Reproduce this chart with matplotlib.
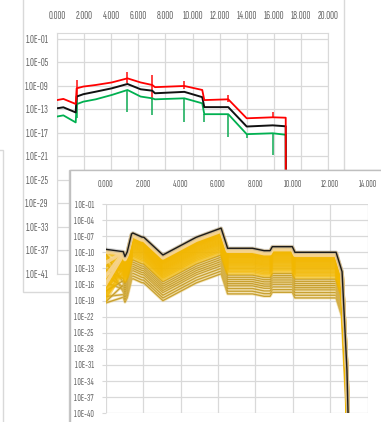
import numpy as np
import matplotlib
matplotlib.use("Agg")
import matplotlib.pyplot as plt
from matplotlib.patches import Rectangle
from matplotlib.ticker import FixedLocator, FuncFormatter

W, H = 381, 422

# upper chart: high / central / low run, exponents of 10
t_x = [0.0, 0.47, 1.38, 1.45, 1.94, 2.86, 4.04, 5.2, 6.17, 7.03, 7.23,
       9.4, 10.72, 10.87, 12.64, 14.0, 15.92, 16.88, 16.9]
red_exp = [-11.4, -11.2, -12.06, -9.4, -9.1, -8.83, -8.4, -7.7, -8.4, -8.83, -9.2,
           -9.0, -9.68, -11.4, -11.27, -14.5, -14.33, -14.4, -46.0]
black_exp = [-12.8, -12.63, -13.5, -10.8, -10.4, -9.97, -9.4, -8.66, -9.56, -9.8, -10.24,
             -10.0, -10.9, -12.6, -12.6, -15.9, -15.7, -15.86, -46.0]
green_exp = [-14.2, -14.0, -15.2, -12.1, -11.67, -11.27, -10.53, -9.68, -10.8, -11.1, -11.27,
             -11.1, -11.95, -13.8, -13.8, -17.2, -17.05, -17.3, -46.0]

# vertical spread markers on the upper chart
red_spike_x = [1.45, 5.2, 7.03, 9.4, 12.64, 15.92]
red_spike_hi = [-7.98, -6.57, -7.13, -8.1, -10.5, -13.4]
red_spike_lo = [-11.4, -8.54, -11.4, -9.56, -11.67, -14.5]
green_spike_x = [1.45, 5.2, 7.03, 9.4, 10.87, 12.64, 14.0, 15.92]
green_spike_hi = [-11.4, -9.68, -11.1, -11.1, -13.8, -13.8, -17.2, -17.05]
green_spike_lo = [-14.5, -13.37, -13.9, -15.07, -15.07, -17.6, -17.9, -20.7]

# lower chart: upper envelope of the ensemble, exponents of 10
b_x = [0.0, 0.94, 1.03, 1.15, 1.38, 1.45, 1.93, 2.04, 3.06, 4.84, 6.17, 6.52,
       7.85, 8.47, 8.79, 8.91, 9.98, 10.12, 11.52, 12.32, 12.64, 12.90, 12.96]
b_top_exp = [-9.44, -9.88, -10.8, -9.94, -6.6, -6.4, -7.15, -7.2, -10.5, -7.2, -5.5, -9.25,
             -9.25, -9.7, -9.7, -8.95, -8.95, -10.0, -10.0, -10.0, -13.6, -31.9, -40.0]
# each run: decades below the envelope, and at the first time point
run_shift = [0.1, 0.25, 0.4, 0.55, 0.7, 0.85, 1.0, 1.15, 1.3, 1.45, 1.6, 1.8, 2.0,
             2.2, 2.4, 2.6, 2.8, 3.0, 3.25, 3.5, 3.75, 4.0, 4.3, 4.6, 5.0,
             5.4, 5.8, 6.2, 6.6, 7.0, 7.5, 8.0, 8.5]
run_start = [2.5, 5.0, 0.5, 6.5, 3.0, 7.5, 1.0, 4.5, 8.0, 2.0, 6.0, 0.2, 9.0,
             3.5, 5.5, 1.5, 7.0, 4.0, 9.5, 2.8, 6.8, 1.2, 8.5, 5.2,
             3.8, 7.8, 0.8, 9.8, 4.8, 6.2, 2.2, 8.8, 10.0]

plt.rcParams["font.family"] = ["Sofia Sans Extra Condensed", "DejaVu Sans"]
plt.rcParams["font.weight"] = "light"
GRID = "#D9D9D9"
TXT = "#666666"

fig = plt.figure(figsize=(W / 100, H / 100), dpi=100)
fig.patch.set_facecolor("white")


def px_box(l, t, r, b):
    return [l / W, 1 - b / H, (r - l) / W, (b - t) / H]


def panel(l, t, r, b, z, edge):
    x, y, w, h = px_box(l, t, r, b)
    rect = Rectangle((x, y), w, h, transform=fig.transFigure, facecolor="white",
                     edgecolor=edge, lw=1.0, zorder=z)
    fig.add_artist(rect)


exp_fmt = FuncFormatter(lambda v, _: "1.0E%03d" % int(round(np.log10(v))))
x_fmt = FuncFormatter(lambda v, _: "%.3f" % v)

# chart frames
panel(-20, 150, 3.3, 460, 0.1, GRID)
panel(23.3, -20, 344.3, 291.7, 0.2, GRID)

# ---- upper chart ----
ax1 = fig.add_axes(px_box(57, 33.1, 328, 274))
ax1.set_zorder(0.3)
ax1.set_facecolor("white")
ax1.set_yscale("log")
ax1.set_xlim(0, 20)
ax1.set_ylim(1e-41, 1e0)
ax1.xaxis.set_major_locator(FixedLocator(np.arange(0, 21, 2)))
ax1.yaxis.set_major_locator(FixedLocator(10.0 ** np.arange(-41, 0, 4)))
ax1.yaxis.set_minor_locator(FixedLocator([]))
ax1.xaxis.set_major_formatter(x_fmt)
ax1.yaxis.set_major_formatter(exp_fmt)
ax1.xaxis.tick_top()
ax1.tick_params(axis="x", length=0, pad=9, labelsize=8, labelcolor=TXT)
ax1.tick_params(axis="y", length=0, pad=6, labelsize=8, labelcolor=TXT)
ax1.grid(True, color=GRID, lw=0.9)
ax1.set_axisbelow(True)
for s in ax1.spines.values():
    s.set_color(GRID)

ax1.vlines(red_spike_x, 10.0 ** np.array(red_spike_lo), 10.0 ** np.array(red_spike_hi),
           color="#FF2020", lw=1.2, zorder=3)
ax1.vlines(green_spike_x, 10.0 ** np.array(green_spike_lo), 10.0 ** np.array(green_spike_hi),
           color="#20B060", lw=1.2, zorder=3)
ax1.plot(t_x, 10.0 ** np.array(green_exp), color="#00B050", lw=1.3, zorder=4)
ax1.plot(t_x, 10.0 ** np.array(black_exp), color="#111111", lw=1.4, zorder=4)
ax1.plot(t_x, 10.0 ** np.array(red_exp), color="#FF0000", lw=1.3, zorder=4)

# ---- lower chart ----
panel(68.5, 170, 460, 460, 0.35, "#C8C8C8")
panel(70, 170, 460, 460, 0.4, "#BFBFBF")

ax2 = fig.add_axes(px_box(105.7, 204, 367.5, 413.3))
ax2.set_zorder(0.5)
ax2.set_facecolor("white")
ax2.set_yscale("log")
ax2.set_xlim(0, 14)
ax2.set_ylim(1e-40, 1e-1)
ax2.xaxis.set_major_locator(FixedLocator(np.arange(0, 15, 2)))
ax2.yaxis.set_major_locator(FixedLocator(10.0 ** np.arange(-40, 0, 3)))
ax2.yaxis.set_minor_locator(FixedLocator([]))
ax2.xaxis.set_major_formatter(x_fmt)
ax2.yaxis.set_major_formatter(exp_fmt)
ax2.xaxis.tick_top()
ax2.tick_params(axis="x", length=0, pad=11, labelsize=7, labelcolor=TXT)
ax2.tick_params(axis="y", length=3, color=GRID, pad=5, labelsize=7, labelcolor=TXT)
ax2.grid(True, color=GRID, lw=0.9)
ax2.set_axisbelow(True)
for s in ax2.spines.values():
    s.set_visible(False)

top = np.array(b_top_exp)
# deepest runs first so the shallow ones sit on top
for shift, start in sorted(zip(run_shift, run_start), reverse=True):
    vals = top - shift
    vals[0] = top[0] - start
    if shift >= 5.0:
        ax2.plot(b_x, 10.0 ** vals, color="#E8C870", lw=2.2, alpha=0.45, zorder=2)
        ax2.plot(b_x, 10.0 ** vals, color="#C49A22", lw=1.0, alpha=0.9, zorder=2)
    elif shift < 0.6:
        ax2.plot(b_x, 10.0 ** vals, color="#F6D490", lw=2.6, alpha=0.9, zorder=3)
    else:
        ax2.plot(b_x, 10.0 ** vals, color="#F2B700", lw=2.8, alpha=0.55, zorder=3)

ax2.plot(b_x, 10.0 ** top, color="#888888", lw=2.6, alpha=0.35, zorder=4)
ax2.plot(b_x, 10.0 ** top, color="#1A1A1A", lw=1.0, zorder=5)

fig.savefig("out.png", dpi=100, facecolor="white")
